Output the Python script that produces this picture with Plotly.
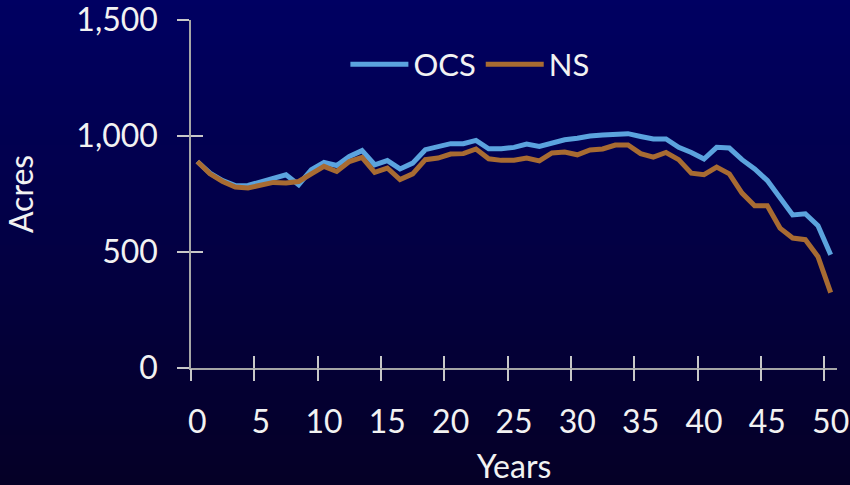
import plotly.graph_objects as go

# ---- data -------------------------------------------------------------
years = list(range(51))

ocs_acres = [890, 840, 808, 786, 787, 801, 816, 833, 790, 855,
             886, 873, 912, 937, 876, 894, 858, 883, 941, 952,
             967, 967, 981, 945, 945, 951, 965, 955, 972, 984,
             990, 1000, 1004, 1007, 1010, 998, 987, 987, 951, 929,
             901, 951, 948, 898, 858, 808, 737, 660, 665, 613, 488]

ns_acres = [890, 837, 804, 780, 776, 786, 800, 797, 804, 837,
            869, 847, 890, 908, 843, 862, 812, 837, 898, 905,
            922, 924, 944, 902, 895, 896, 905, 893, 927, 931,
            919, 940, 944, 961, 961, 924, 909, 929, 898, 840,
            833, 866, 837, 754, 699, 699, 603, 560, 553, 480, 325]

x_label_years = [0, 5, 10, 15, 20, 25, 30, 35, 40, 45, 50]
y_tick_values = [0, 500, 1000, 1500]

# ---- style ------------------------------------------------------------
W, H = 850, 485
M_L, M_R, M_T, M_B = 191, 13, 20, 117
TOP_RGB = (0, 0, 98)
BOTTOM_RGB = (5, 0, 38)
TEXT = "#f2f2f2"
AXIS = "#a6a6a6"
TICK = "#c8c8c8"
FONT = "Lato"

fig = go.Figure()

fig.add_trace(go.Scatter(x=years, y=ocs_acres, name="OCS", mode="lines",
                         line=dict(color="#5ba3de", width=5)))
fig.add_trace(go.Scatter(x=years, y=ns_acres, name="NS", mode="lines",
                         line=dict(color="#a86b32", width=5)))

# empty traces so the overlay axes (tick marks crossing the axis) get drawn
for xa, ya in (("x2", "y"), ("x3", "y"), ("x", "y2")):
    fig.add_trace(go.Scatter(x=[], y=[], xaxis=xa, yaxis=ya,
                             showlegend=False, hoverinfo="skip"))

# category boundaries: tick marks sit between the yearly categories
boundaries = [v - 0.5 for v in x_label_years]
x_range = [-0.5, years[-1] + 0.5]
y_range = [y_tick_values[0], y_tick_values[-1]]

# vertical background gradient made of thin horizontal bands
plot_h = H - M_T - M_B
n_bands = 97
band_px = H / n_bands
shapes = []
for i in range(n_bands):
    t = (i + 0.5) / n_bands
    r, g, b = (round(a + (c - a) * t) for a, c in zip(TOP_RGB, BOTTOM_RGB))
    p0, p1 = i * band_px, (i + 1) * band_px + 0.6
    shapes.append(dict(type="rect", xref="paper", yref="paper",
                       x0=-1, x1=2,
                       y0=(H - M_B - p1) / plot_h, y1=(H - M_B - p0) / plot_h,
                       fillcolor=f"rgb({r},{g},{b})", line=dict(width=0),
                       layer="below"))

common = dict(showgrid=False, zeroline=False, automargin=False)

fig.update_layout(
    width=W, height=H,
    margin=dict(l=M_L, r=M_R, t=M_T, b=M_B, autoexpand=False),
    paper_bgcolor="rgb(%d,%d,%d)" % BOTTOM_RGB,
    plot_bgcolor="rgba(0,0,0,0)",
    font=dict(family=FONT, size=32, color=TEXT),
    shapes=shapes,
    showlegend=True,
    legend=dict(orientation="h", x=0.239, xanchor="left", y=0.872,
                yanchor="middle", bgcolor="rgba(0,0,0,0)", borderwidth=0,
                font=dict(family=FONT, size=31, color=TEXT),
                itemwidth=58, tracegroupgap=0),
    xaxis=dict(range=x_range, tickmode="array", tickvals=x_label_years,
               ticktext=[str(v) for v in x_label_years], ticks="",
               showline=True, linecolor=AXIS, linewidth=1.5,
               ticklabelstandoff=25, ticklabeloverflow="allow",
               title=dict(text="Years", standoff=33,
                          font=dict(family=FONT, size=32, color=TEXT)),
               **common),
    xaxis2=dict(range=x_range, overlaying="x", anchor="y", side="bottom",
                tickmode="array", tickvals=boundaries, ticks="outside",
                ticklen=12, tickwidth=1.5, tickcolor=TICK,
                showticklabels=False, showline=False, **common),
    xaxis3=dict(range=x_range, overlaying="x", anchor="y", side="bottom",
                tickmode="array", tickvals=boundaries, ticks="inside",
                ticklen=12, tickwidth=1.5, tickcolor=TICK,
                showticklabels=False, showline=False, **common),
    yaxis=dict(range=y_range, tickmode="array", tickvals=y_tick_values,
               tickformat=",", ticks="outside", ticklen=12, tickwidth=1.5,
               tickcolor=TICK, showline=True, linecolor=AXIS, linewidth=1.5,
               ticklabelstandoff=13, ticklabeloverflow="allow",
               title=dict(text="Acres", standoff=33,
                          font=dict(family=FONT, size=32, color=TEXT)),
               **common),
    yaxis2=dict(range=y_range, overlaying="y", anchor="x", side="left",
                tickmode="array", tickvals=y_tick_values, ticks="inside",
                ticklen=12, tickwidth=1.5, tickcolor=TICK,
                showticklabels=False, showline=False, **common),
)

fig.write_html("out.html")
